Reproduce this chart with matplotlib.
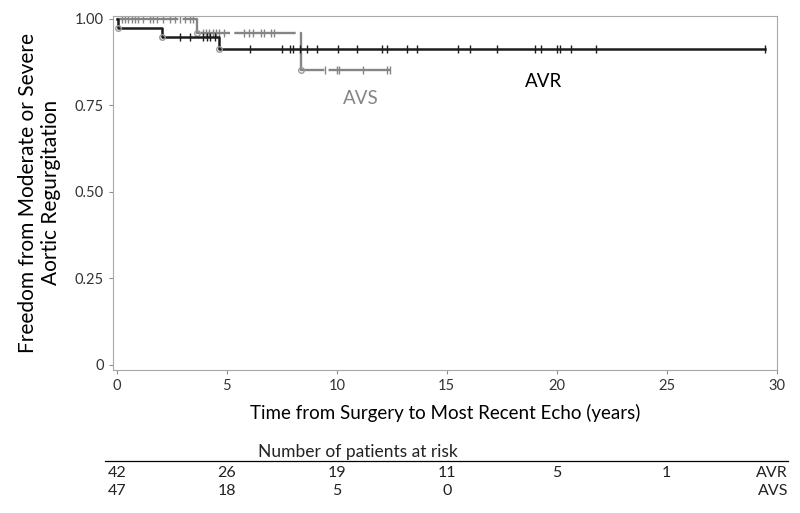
import matplotlib
matplotlib.use("Agg")
import matplotlib.pyplot as plt
import numpy as np

plt.rcParams['font.family'] = ['Lato', 'DejaVu Sans']

# Kaplan-Meier steps (time in years, freedom from AR)
avr_t = [0, 0.05, 2.05, 4.64, 29.45]
avr_s = [1.0, 0.974, 0.949, 0.913, 0.913]
avs_t = [0, 3.64, 8.36, 12.5]
avs_s = [1.0, 0.959, 0.851, 0.851]

# censored observations
avr_cens = [2.86, 3.32, 3.9, 4.1, 4.23, 4.45, 6.05, 7.5, 7.86, 8.0, 8.32, 8.64, 9.1,
            10.05, 10.9, 12.05, 12.27, 13.18, 13.64, 15.5, 16.05, 17.3, 19.0, 19.3,
            20.0, 20.14, 20.64, 21.77, 29.45]
avs_cens = [0.23, 0.36, 0.5, 0.68, 0.82, 0.95, 1.18, 1.5, 1.64, 1.82, 2.1, 2.41, 2.64,
            2.86, 3.09, 3.32, 3.45, 3.9, 4.05, 4.18, 4.36, 4.5, 4.64, 4.86, 5.77, 6.0,
            6.18, 6.55, 6.68, 7.0, 7.14, 9.45, 10.0, 10.1, 11.2, 12.27, 12.4]

# number at risk
risk_times = [0, 5, 10, 15, 20, 25]
avr_risk = ['42', '26', '19', '11', '5', '1']
avs_risk = ['47', '18', '5', '0']


def surv_at(times, surv, pts):
    idx = np.searchsorted(times, pts, side='right') - 1
    return np.array(surv)[idx]


fig = plt.figure(figsize=(8, 5.13), dpi=100)
ax = fig.add_axes([0.141, 0.279, 0.830, 0.690])

black = '#1c1c1c'
gray = '#858585'

ax.step(avs_t, avs_s, where='post', color=gray, lw=1.7, linestyle=(0, (26, 1.8)))
ax.plot(avs_cens, surv_at(avs_t, avs_s, avs_cens), '|', color=gray, ms=5.5, mew=1)
ax.plot(avs_t[1:-1], avs_s[1:-1], 'o', mfc='none', mec='#999999', ms=4, mew=1)

ax.step(avr_t, avr_s, where='post', color=black, lw=1.8)
ax.plot(avr_cens, surv_at(avr_t, avr_s, avr_cens), '|', color=black, ms=5.5, mew=1)
ax.plot(avr_t[1:-1], avr_s[1:-1], 'o', mfc='none', mec='#999999', ms=4, mew=1)

ax.text(11.1, 0.77, 'AVS', color=gray, fontsize=13.5, ha='center', va='center')
ax.text(19.4, 0.82, 'AVR', color='black', fontsize=13.5, ha='center', va='center')

ax.set_xlim(-0.18, 30)
ax.set_ylim(-0.0145, 1.0087)
ax.set_xticks(range(0, 31, 5))
ax.set_yticks([0, 0.25, 0.5, 0.75, 1.0])
ax.set_yticklabels(['0', '0.25', '0.50', '0.75', '1.00'])
ax.tick_params(labelsize=10.5, colors='#909090', labelcolor='#333333', length=3)
for sp in ax.spines.values():
    sp.set_color('#a8a8a8')

ax.set_xlabel('Time from Surgery to Most Recent Echo (years)', fontsize=13.5, labelpad=8)
ax.set_ylabel('Freedom from Moderate or Severe\nAortic Regurgitation', fontsize=15,
              labelpad=10, linespacing=1.15)

# risk table
fig.text(0.447, 0.119, 'Number of patients at risk', fontsize=12.5, ha='center', va='center', color='#222222')
fig.add_artist(plt.Line2D([0.131, 0.985], [0.101, 0.101], color='black', lw=0.9))
for t, n in zip(risk_times, avr_risk):
    ax.annotate(n, (t, 0.078), xycoords=(ax.transData, fig.transFigure), fontsize=11.5,
                ha='center', va='center', color='#222222', annotation_clip=False)
for t, n in zip(risk_times, avs_risk):
    ax.annotate(n, (t, 0.043), xycoords=(ax.transData, fig.transFigure), fontsize=11.5,
                ha='center', va='center', color='#222222', annotation_clip=False)
fig.text(0.985, 0.078, 'AVR', fontsize=11.5, ha='right', va='center', color='#222222')
fig.text(0.985, 0.043, 'AVS', fontsize=11.5, ha='right', va='center', color='#222222')

fig.savefig('out.png', dpi=100)
